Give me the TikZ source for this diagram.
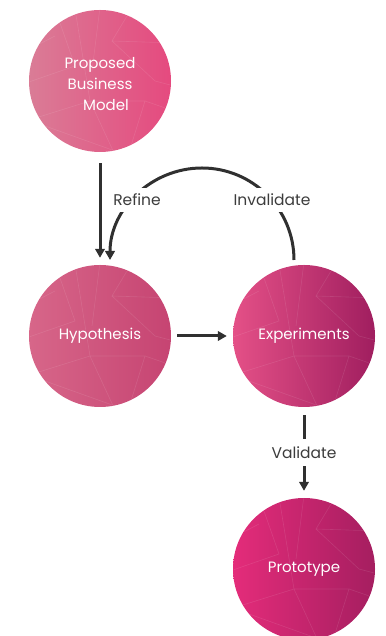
\documentclass[tikz,border=0pt]{standalone}
\usepackage{fontspec}
\setmainfont{Poppins}
\usetikzlibrary{arrows.meta,calc}
\definecolor{arrowgray}{HTML}{303030}
\definecolor{labelgray}{HTML}{3C3C3C}
\newcommand\facets[1]{%
  \begin{scope}
    \clip (#1.center) circle[radius=70.5];
    \begin{scope}[shift={(#1.center)}]
      \draw[facet] (-25,72) -- (-10,-20) -- (15,-74);
      \draw[facet] (0,74) -- (-8,10);
      \draw[facet] (30,70) -- (12,40) -- (74,38);
      \draw[facet] (12,40) -- (55,0) -- (74,-5);
      \draw[facet] (-74,-2) -- (-25,15) -- (-40,58);
      \draw[facet] (-45,45) -- (-74,30);
      \draw[facet] (-55,-45) -- (15,-70);
      \draw[facet] (-10,-20) -- (45,-20) -- (30,-68);
      \draw[facet] (-74,-40) -- (-10,-20);
      \draw[facet] (45,-20) -- (74,-30);
    \end{scope}
  \end{scope}}
\tikzset{
  x=1pt, y=1pt,
  bubble/.style={circle, minimum size=142pt, inner sep=0pt, text=white,
    font=\fontsize{15}{21}\selectfont, align=center},
  facet/.style={white, opacity=0.1, line width=0.6pt},
  arr/.style={draw=arrowgray, line width=3pt,
    -{Triangle[length=9pt,width=9.5pt]}},
  lbl/.style={fill=white, text=labelgray, inner sep=6pt,
    font=\fontsize{15.5}{18}\selectfont},
}
\begin{document}
\begin{tikzpicture}
\useasboundingbox (0,0) rectangle (385,636);
\node[bubble, left color={rgb,255:red,218;green,124;blue,150}, right color={rgb,255:red,229;green,74;blue,127}] (pbm) at (100,555) {};
\node[bubble, left color={rgb,255:red,215;green,102;blue,137}, right color={rgb,255:red,198;green,68;blue,114}] (hyp) at (100,300) {};
\node[bubble, left color={rgb,255:red,228;green,80;blue,135}, right color={rgb,255:red,160;green,30;blue,95}] (exp) at (304,300) {};
\node[bubble, left color={rgb,255:red,228;green,44;blue,122}, right color={rgb,255:red,165;green,30;blue,96}] (proto) at (304,67) {};
\facets{pbm}
\facets{hyp}
\facets{exp}
\facets{proto}
\node[bubble] (pbmtext) at ([yshift=-3pt]pbm.center) {Proposed\\Business\\\hspace*{0.8em}Model};
\node[bubble] (hyptext) at (hyp) {Hypothesis};
\node[bubble] (exptext) at (exp) {Experiments};
\node[bubble] (prototext) at (proto) {Prototype};
% arrows
\draw[arr, shorten <=11pt, shorten >=7pt] (pbm) -- (hyp);
\draw[arr, shorten <=6pt, shorten >=6pt] (hyp) -- (exp);
\draw[arr] ($(exp.center)+(-10,76)$) arc[start angle=0, end angle=180, radius=92];
\node[lbl] (refine) at (137,436) {Refine};
\node[lbl] (inval) at (272,436) {Invalidate};
\draw[arr, shorten <=8pt, shorten >=7pt] (exp) -- node[lbl, inner sep=8pt] (valid) {Validate} (proto);
\end{tikzpicture}
\end{document}
